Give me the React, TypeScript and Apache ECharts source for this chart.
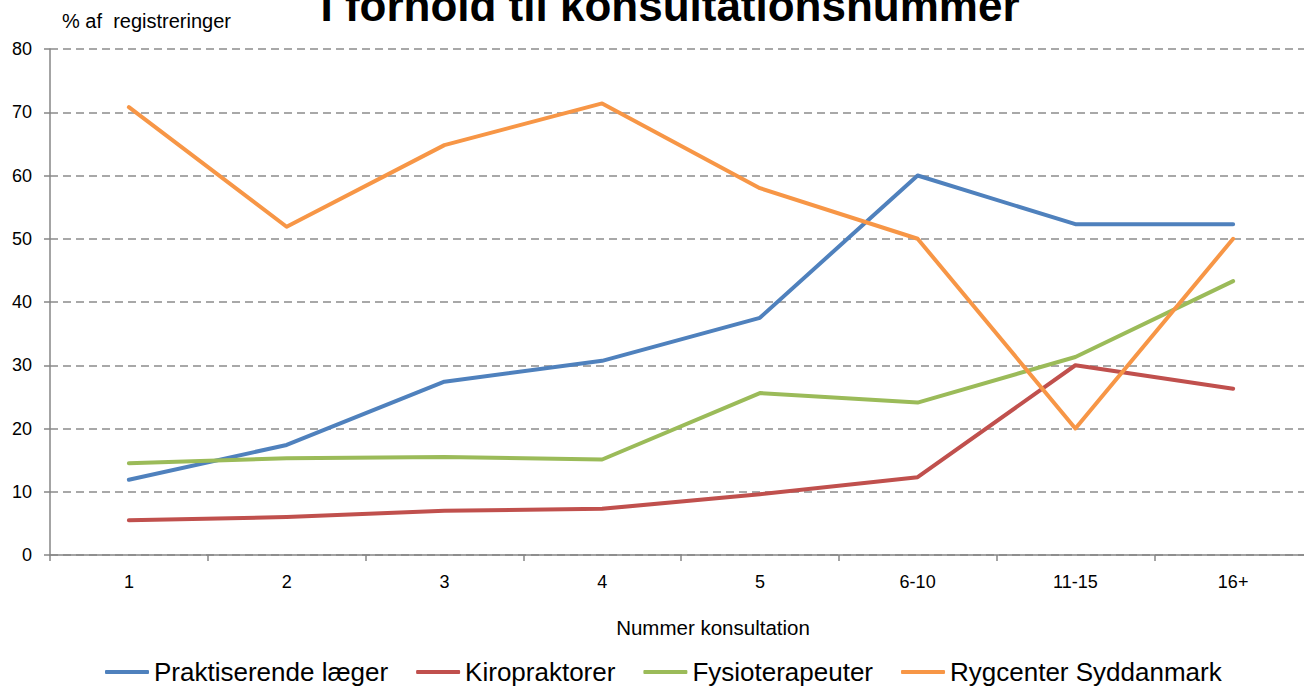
import React, { useEffect, useRef } from "react";
import * as echarts from "echarts";

const categories = ["1", "2", "3", "4", "5", "6-10", "11-15", "16+"];
const praktiserende = [11.9, 17.4, 27.4, 30.7, 37.5, 60.0, 52.3, 52.3];
const kiropraktorer = [5.5, 6.0, 7.0, 7.3, 9.6, 12.3, 30.0, 26.3];
const fysioterapeuter = [14.5, 15.3, 15.5, 15.1, 25.6, 24.1, 31.3, 43.3];
const rygcenter = [70.8, 51.9, 64.8, 71.4, 58.0, 50.0, 20.0, 50.0];
const seriesNames = ["Praktiserende læger", "Kiropraktorer", "Fysioterapeuter", "Rygcenter Syddanmark"];
const colors = ["#4F81BD", "#C0504D", "#9BBB59", "#F79646"];

const FONT = "Liberation Sans";

export default function App() {
  const ref = useRef<HTMLDivElement>(null);
  useEffect(() => {
    if (!ref.current) return;
    const chart = echarts.init(ref.current, undefined, { renderer: "svg" });
    const data = [praktiserende, kiropraktorer, fysioterapeuter, rygcenter];
    chart.setOption({
      animation: false,
      textStyle: { fontFamily: FONT },
      title: {
        text: "I forhold til konsultationsnummer",
        left: 665,
        textAlign: "center",
        top: -22,
        textStyle: { fontSize: 44, fontWeight: "bold", color: "#000", fontFamily: FONT },
      },
      graphic: [
        {
          type: "text",
          left: 62,
          top: 11,
          style: { text: "% af  registreringer", fontSize: 20, fill: "#000", fontFamily: FONT },
        },
      ],
      legend: {
        bottom: 0,
        left: 100,
        itemWidth: 44,
        itemHeight: 4,
        itemGap: 28,
        icon: "roundRect",
        textStyle: { fontSize: 26, color: "#000", fontFamily: FONT },
        data: seriesNames,
      },
      grid: { left: 50, top: 49, bottom: 135, width: 1262 },
      xAxis: {
        type: "category",
        data: categories,
        boundaryGap: true,
        name: "Nummer konsultation",
        nameLocation: "middle",
        nameGap: 62,
        nameTextStyle: { fontSize: 20.5, color: "#000", padding: [0, 0, 0, 64], fontFamily: FONT },
        axisLine: { lineStyle: { color: "#868686", width: 1.5 } },
        axisTick: { show: true, length: 6, alignWithLabel: false, lineStyle: { color: "#868686", width: 1.5 } },
        axisLabel: { fontSize: 18, color: "#000", margin: 18, fontFamily: FONT },
        splitLine: { show: false },
      },
      yAxis: {
        type: "value",
        min: 0,
        max: 80,
        interval: 10,
        axisLine: { show: true, lineStyle: { color: "#868686", width: 1.5 } },
        axisTick: { show: true, length: 6, lineStyle: { color: "#868686", width: 1.5 } },
        axisLabel: { fontSize: 18, color: "#000", margin: 18, fontFamily: FONT },
        splitLine: { show: true, lineStyle: { color: "#8c8c8c", width: 1.5, type: [8, 5] } },
      },
      series: seriesNames.map((n, i) => ({
        name: n,
        type: "line",
        data: data[i],
        symbol: "none",
        lineStyle: { color: colors[i], width: 4, cap: "round", join: "round" },
        itemStyle: { color: colors[i] },
      })),
    });
    return () => chart.dispose();
  }, []);
  return (
    <div style={{ width: 1304, height: 690, position: "absolute", left: 0, top: 0, overflow: "hidden" }}>
      <div ref={ref} style={{ width: 1312, height: 690 }} />
    </div>
  );
}
